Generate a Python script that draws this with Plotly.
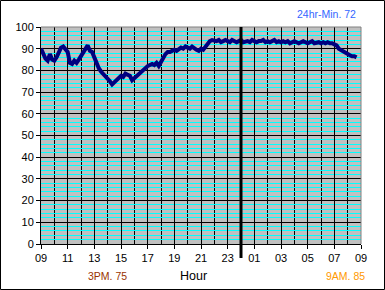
import plotly.graph_objects as go

# Hours since 09:00, sampled every 10 minutes
step_minutes = 10
temps = [
    90, 87.5, 85.5, 84.5, 87.5, 85, 84.5, 86, 88.5, 90.5, 91, 89.5,
    88.5, 83.5, 83, 84.5, 83.5, 85, 86.5, 88, 90, 91.5, 89, 88.5,
    86, 83, 81, 79.5, 78.5, 77.5, 76.5, 75, 73.5, 74.5, 76, 76.5,
    77.5, 77, 78.5, 78, 77.5, 75.5, 76.5, 77.5, 78, 79.5, 80.5, 81,
    82, 82.5, 83, 82.5, 83.5, 82, 84, 85.5, 87.5, 88.5, 88.5, 89,
    89.5, 89, 90, 90.5, 90, 91, 90.5, 90, 91, 90, 89.5, 89,
    90, 89.5, 91, 92.5, 93.5, 94, 93.5, 93.5, 94, 93, 93.5, 94,
    93.5, 93, 94, 93.5, 93, 93.5, 94, 93, 93.5, 93.5, 93, 94,
    93.5, 93, 93.5, 93.5, 94, 93, 93.5, 93, 93.5, 94, 93, 93.5,
    93, 93.5, 93, 93.5, 92.5, 93, 93.5, 93, 92.5, 93, 93.5, 93,
    92.5, 93, 93.5, 92.5, 93, 93, 92.5, 93, 92.5, 93, 92.5, 92.5,
    92, 91.5, 90, 89.5, 88.5, 88, 88, 87, 86.5, 86.5, 86,
]
hours = [i * step_minutes / 60 for i in range(len(temps))]

tick_vals = list(range(0, 25, 2))
tick_text = ["09", "11", "13", "15", "17", "19", "21", "23", "01", "03", "05", "07", "09"]
y_ticks = list(range(0, 101, 10))
midnight_hour = 15

title_text = "24hr-Min. 72"
low_text = "3PM. 75"
x_title = "Hour"
end_text = "9AM. 85"

L, R, T, B = 41, 24, 27, 46
W, H = 385, 290
pw, ph = W - L - R, H - T - B

fig = go.Figure()
fig.add_trace(go.Scatter(
    x=hours, y=temps, mode="lines",
    line=dict(color="#000080", width=4),
    hoverinfo="skip", showlegend=False,
))

font = "Liberation Sans, Arial, sans-serif"

fig.update_layout(
    width=W, height=H,
    margin=dict(l=L, r=R, t=T, b=B, pad=0),
    paper_bgcolor="white",
    plot_bgcolor="#C0C0C0",
    font=dict(family=font, size=11, color="black"),
    xaxis=dict(
        range=[0, 24], tickvals=tick_vals, ticktext=tick_text,
        showgrid=True, gridcolor="black", gridwidth=1,
        minor=dict(dtick=1, showgrid=True, gridcolor="black", gridwidth=1, ticks=""),
        ticks="outside", ticklen=4, tickcolor="black", tickwidth=1,
        showline=True, linecolor="black", linewidth=1,
        zeroline=False, fixedrange=True,
        tickfont=dict(size=11),
    ),
    yaxis=dict(
        range=[0, 100], tickvals=y_ticks,
        showgrid=True, gridcolor="black", gridwidth=1,
        minor=dict(dtick=2, showgrid=True, gridcolor="#00FFFF", gridwidth=1, ticks=""),
        ticks="outside", ticklen=4, tickcolor="black", tickwidth=1,
        showline=True, linecolor="black", linewidth=1,
        zeroline=False, fixedrange=True,
        tickfont=dict(size=11),
    ),
    shapes=[
        # top and right plot borders (grey)
        dict(type="line", xref="paper", yref="paper", x0=0, x1=1, y0=1, y1=1,
             line=dict(color="#808080", width=1)),
        dict(type="line", xref="paper", yref="paper", x0=1, x1=1, y0=0, y1=1,
             line=dict(color="#808080", width=1)),
        # midnight marker
        dict(type="line", xref="paper", yref="paper",
             x0=midnight_hour / 24, x1=midnight_hour / 24,
             y0=-14 / ph, y1=1, line=dict(color="black", width=3)),
        # outer border
        dict(type="rect", xref="paper", yref="paper",
             x0=(-L + 0.5) / pw, x1=1 + (R - 0.5) / pw,
             y0=(-B + 0.5) / ph, y1=1 + (T - 0.5) / ph,
             line=dict(color="black", width=1)),
    ],
    annotations=[
        dict(text=title_text, xref="paper", yref="paper",
             x=(358 - L) / pw, y=(244.3 - 14) / ph, xanchor="right", yanchor="middle",
             showarrow=False, font=dict(size=10.5, color="#3366FF")),
        dict(text=low_text, xref="paper", yref="paper",
             x=(107.5 - L) / pw, y=(244.3 - 276.5) / ph, xanchor="center", yanchor="middle",
             showarrow=False, font=dict(size=10.5, color="#993300")),
        dict(text=x_title, xref="paper", yref="paper",
             x=(193.5 - L) / pw, y=(244.3 - 276) / ph, xanchor="center", yanchor="middle",
             showarrow=False, font=dict(size=12.5, color="black")),
        dict(text=end_text, xref="paper", yref="paper",
             x=(345 - L) / pw, y=(244.3 - 276.5) / ph, xanchor="center", yanchor="middle",
             showarrow=False, font=dict(size=10.5, color="#FF9900")),
    ],
)

fig.write_html("out.html")
